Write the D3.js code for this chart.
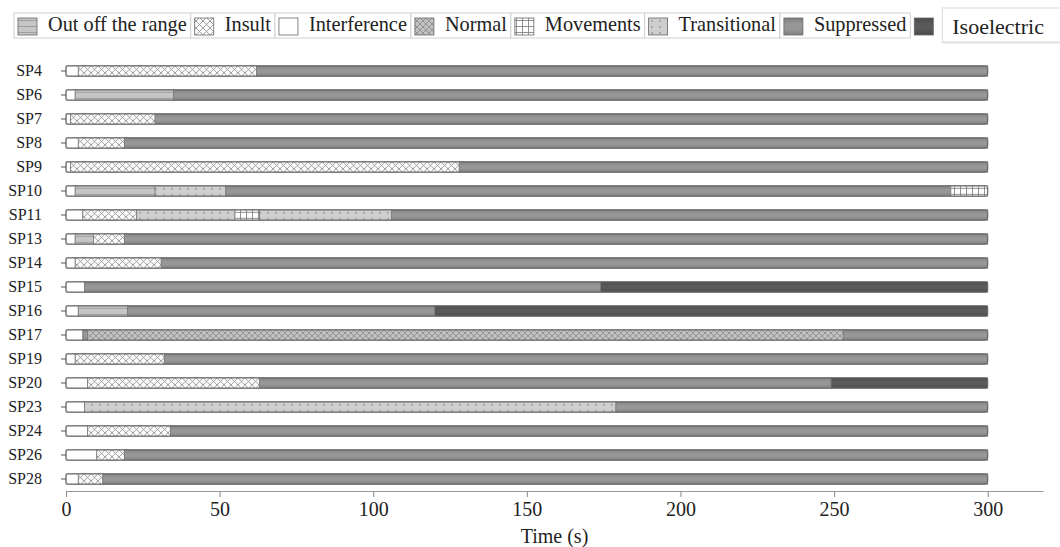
<!DOCTYPE html>
<html>
<head>
<meta charset="utf-8">
<script src="https://cdn.jsdelivr.net/npm/d3@7"></script>
<style>
  html, body { margin: 0; padding: 0; background: #fff; }
  svg { display: block; font-family: "Liberation Serif", "Times New Roman", serif; }
</style>
</head>
<body>
<svg id="chart" width="1060" height="547"></svg>
<script>
// EEG state per recording over the first 300 s
const subjects = ["SP4","SP6","SP7","SP8","SP9","SP10","SP11","SP13","SP14","SP15","SP16","SP17","SP19","SP20","SP23","SP24","SP26","SP28"];

const stateNames = ["Out off the range","Insult","Interference","Normal","Movements","Transitional","Suppressed","Isoelectric"];

// sequence of states for each subject (same order as subjects)
const stateSequences = [
  ["Interference","Insult","Suppressed"],
  ["Interference","Out off the range","Suppressed"],
  ["Interference","Insult","Suppressed"],
  ["Interference","Insult","Suppressed"],
  ["Interference","Insult","Suppressed"],
  ["Interference","Out off the range","Transitional","Suppressed","Movements"],
  ["Interference","Insult","Transitional","Movements","Transitional","Suppressed"],
  ["Interference","Out off the range","Insult","Suppressed"],
  ["Interference","Insult","Suppressed"],
  ["Interference","Suppressed","Isoelectric"],
  ["Interference","Out off the range","Suppressed","Isoelectric"],
  ["Interference","Suppressed","Normal","Suppressed"],
  ["Interference","Insult","Suppressed"],
  ["Interference","Insult","Suppressed","Isoelectric"],
  ["Interference","Transitional","Suppressed"],
  ["Interference","Insult","Suppressed"],
  ["Interference","Insult","Suppressed"],
  ["Interference","Insult","Suppressed"]
];

// state change times in seconds (start of first state ... end of last state)
const stateBoundaries = [
  [0, 4, 62, 300],
  [0, 3, 35, 300],
  [0, 1.5, 29, 300],
  [0, 4, 19, 300],
  [0, 1.5, 128, 300],
  [0, 3, 29, 52, 288, 300],
  [0, 5.5, 23, 55, 63, 106, 300],
  [0, 3, 9, 19, 300],
  [0, 3, 31, 300],
  [0, 6, 174, 300],
  [0, 4, 20, 120, 300],
  [0, 5.5, 7, 253, 300],
  [0, 3, 32, 300],
  [0, 7, 63, 249, 300],
  [0, 6, 179, 300],
  [0, 7, 34, 300],
  [0, 10, 19, 300],
  [0, 4, 12, 300]
];

const timeTicks = [0, 50, 100, 150, 200, 250, 300];
const axisTitle = "Time (s)";

const svg = d3.select("#chart");
const defs = svg.append("defs");

// ---- fills -------------------------------------------------------------
function vGrad(id, edge, mid) {
  const g = defs.append("linearGradient").attr("id", id)
    .attr("x1", 0).attr("y1", 0).attr("x2", 0).attr("y2", 1);
  g.append("stop").attr("offset", "0%").attr("stop-color", edge);
  g.append("stop").attr("offset", "35%").attr("stop-color", mid);
  g.append("stop").attr("offset", "65%").attr("stop-color", mid);
  g.append("stop").attr("offset", "100%").attr("stop-color", edge);
}
vGrad("gSupp", "#808080", "#979797");
vGrad("gIso", "#4a4a4a", "#5a5a5a");

function pattern(id, w, h, build) {
  const p = defs.append("pattern").attr("id", id)
    .attr("patternUnits", "userSpaceOnUse").attr("width", w).attr("height", h);
  build(p);
}
pattern("pInsult", 7, 7, p => {
  p.append("rect").attr("width", 7).attr("height", 7).attr("fill", "#fbfbfb");
  p.append("path").attr("d", "M0,0L7,7M7,0L0,7").attr("stroke", "#8a8a8a").attr("stroke-width", 0.8);
});
pattern("pNormal", 6, 6, p => {
  p.append("rect").attr("width", 6).attr("height", 6).attr("fill", "#c2c2c2");
  p.append("path").attr("d", "M0,0L6,6M6,0L0,6").attr("stroke", "#858585").attr("stroke-width", 0.8);
});
pattern("pOut", 8, 6, p => {
  p.append("rect").attr("width", 8).attr("height", 6).attr("fill", "#c6c6c6");
  p.append("path").attr("d", "M0,2.5L8,2.5").attr("stroke", "#8c8c8c").attr("stroke-width", 0.7);
});
pattern("pMov", 6, 6, p => {
  p.append("rect").attr("width", 6).attr("height", 6).attr("fill", "#fdfdfd");
  p.append("path").attr("d", "M0.5,0L0.5,6M0,2.5L6,2.5").attr("stroke", "#777").attr("stroke-width", 0.8);
});
pattern("pTrans", 8, 6, p => {
  p.append("rect").attr("width", 8).attr("height", 6).attr("fill", "#cecece");
  p.append("circle").attr("cx", 4).attr("cy", 3).attr("r", 0.8).attr("fill", "#777");
});

const fills = {
  "Out off the range": "url(#pOut)",
  "Insult": "url(#pInsult)",
  "Interference": "#ffffff",
  "Normal": "url(#pNormal)",
  "Movements": "url(#pMov)",
  "Transitional": "url(#pTrans)",
  "Suppressed": "url(#gSupp)",
  "Isoelectric": "url(#gIso)"
};

// ---- scales ------------------------------------------------------------
const x = d3.scaleLinear().domain([0, 318]).range([66, 1043]);
const y = d3.scaleBand().domain(subjects).range([59, 491]).paddingInner(0.57).paddingOuter(0.285);
const bh = y.bandwidth();

// ---- bars --------------------------------------------------------------
const rows = svg.append("g").selectAll("g").data(subjects).join("g")
  .attr("transform", d => `translate(0,${y(d)})`);

rows.each(function(subj, i) {
  const g = d3.select(this);
  const seq = stateSequences[i], b = stateBoundaries[i];
  const segs = seq.map((s, k) => ({ state: s, t0: b[k], t1: b[k + 1] }));
  g.selectAll("rect.seg").data(segs).join("rect").attr("class", "seg")
    .attr("x", d => x(d.t0)).attr("y", 0)
    .attr("width", d => x(d.t1) - x(d.t0)).attr("height", bh)
    .attr("fill", d => fills[d.state])
    .attr("stroke", "#7a7a7a").attr("stroke-width", 0.8);
  g.append("rect")
    .attr("x", x(b[0])).attr("y", 0)
    .attr("width", x(b[b.length - 1]) - x(b[0])).attr("height", bh)
    .attr("rx", 2).attr("fill", "none")
    .attr("stroke", "#666").attr("stroke-width", 1);
});

// ---- axes --------------------------------------------------------------
const yAxis = svg.append("g").attr("transform", "translate(66,0)")
  .call(d3.axisLeft(y).tickSize(5).tickPadding(19));
yAxis.select(".domain").remove();
yAxis.selectAll(".tick line").attr("stroke", "#555");
yAxis.selectAll(".tick text").attr("font-size", 16)
  .attr("font-family", "Liberation Serif, serif").attr("fill", "#222");

const xAxis = svg.append("g").attr("transform", "translate(0,491)")
  .call(d3.axisBottom(x).tickValues(timeTicks).tickSize(6).tickSizeOuter(0).tickPadding(5));
xAxis.select(".domain").attr("stroke", "#999");
xAxis.selectAll(".tick line").attr("stroke", "#888");
xAxis.selectAll(".tick text").attr("font-size", 20)
  .attr("font-family", "Liberation Serif, serif").attr("fill", "#222");

svg.append("text").attr("x", (x(0) + x(318)) / 2).attr("y", 543)
  .attr("text-anchor", "middle").attr("font-size", 20).attr("fill", "#222")
  .text(axisTitle);

// ---- legend ------------------------------------------------------------
const legend = svg.append("g");
let lx = 18;
stateNames.forEach((name, i) => {
  const last = i === stateNames.length - 1;
  const item = legend.append("g");
  item.append("rect").attr("x", lx).attr("y", 18).attr("width", 19).attr("height", 17)
    .attr("fill", fills[name])
    .attr("stroke", "#666").attr("stroke-width", 0.8);
  if (!last) {
    const t = item.append("text").attr("x", lx + 30).attr("y", 31)
      .attr("font-size", 20.3).attr("fill", "#222").text(name);
    const w = t.node().getComputedTextLength();
    item.insert("rect", ":first-child")
      .attr("x", lx - 4).attr("y", 13).attr("width", w + 38).attr("height", 25)
      .attr("fill", "#fff").attr("stroke", "#d0d0d0").attr("stroke-width", 1);
    lx += w + 38;
  } else {
    const bx = lx + 28;
    item.append("rect").attr("x", bx + 1).attr("y", 9).attr("width", 122).attr("height", 35)
      .attr("fill", "#eee");
    item.append("rect").attr("x", bx).attr("y", 8).attr("width", 121).attr("height", 34)
      .attr("fill", "#fff").attr("stroke", "#d8d8d8");
    item.append("text").attr("x", bx + 10).attr("y", 34)
      .attr("font-size", 22).attr("fill", "#222").text(name);
  }
});
</script>
</body>
</html>
